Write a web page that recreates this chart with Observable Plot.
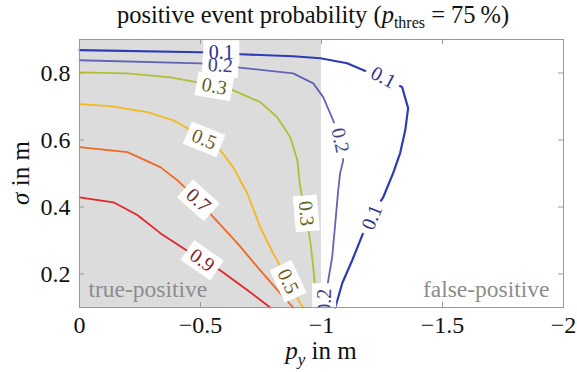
<!DOCTYPE html>
<html><head><meta charset="utf-8">
<script src="https://cdn.jsdelivr.net/npm/d3@7"></script>
<script src="https://cdn.jsdelivr.net/npm/@observablehq/plot@0.6"></script>
<style>
body{margin:0;background:#fff;}
#title{height:30px;width:577px;font-family:"Liberation Serif","Times New Roman","DejaVu Serif",serif;font-size:24.5px;line-height:30px;text-align:center;padding-left:49px;box-sizing:border-box;color:#111;white-space:nowrap;}
#title sub{font-size:16px;line-height:0;vertical-align:-5px;}
</style></head><body>
<div id="title">positive event probability (<i>p</i><sub>thres</sub> = 75&#8201;%)</div>
<div id="chart"></div>
<script>
// contour polylines [py (m), sigma (m)]
const c01 = [[0,0.868],[-0.499,0.862],[-0.664,0.856],[-0.883,0.850],[-0.995,0.844],[-1.106,0.829],[-1.193,0.802],[-1.255,0.784],[-1.333,0.758],[-1.358,0.695],[-1.346,0.629],[-1.325,0.561],[-1.296,0.501],[-1.255,0.429],[-1.201,0.370],[-1.172,0.322],[-1.127,0.241],[-1.086,0.173],[-1.057,0.1]];
const c02 = [[0,0.838],[-0.499,0.829],[-0.652,0.817],[-0.883,0.799],[-0.966,0.769],[-1.007,0.728],[-1.048,0.659],[-1.077,0.599],[-1.090,0.540],[-1.077,0.501],[-1.069,0.450],[-1.057,0.352],[-1.044,0.250],[-1.028,0.182],[-1.015,0.1]];
const c03 = [[0,0.802],[-0.198,0.799],[-0.375,0.787],[-0.557,0.763],[-0.635,0.748],[-0.747,0.713],[-0.817,0.668],[-0.871,0.608],[-0.900,0.540],[-0.912,0.459],[-0.933,0.384],[-0.953,0.301],[-0.966,0.220],[-0.974,0.161],[-0.982,0.1]];
const c05 = [[0,0.707],[-0.127,0.701],[-0.280,0.683],[-0.387,0.659],[-0.511,0.608],[-0.581,0.570],[-0.635,0.519],[-0.693,0.441],[-0.747,0.340],[-0.800,0.262],[-0.862,0.181],[-0.912,0.113],[-0.924,0.1]];
const c07 = [[0,0.579],[-0.198,0.564],[-0.334,0.519],[-0.404,0.480],[-0.491,0.420],[-0.553,0.370],[-0.652,0.292],[-0.747,0.211],[-0.829,0.143],[-0.883,0.1]];
const c09 = [[0,0.429],[-0.140,0.414],[-0.239,0.376],[-0.334,0.322],[-0.429,0.277],[-0.507,0.241],[-0.581,0.211],[-0.693,0.152],[-0.788,0.1]];

const levels = ["0.1","0.2","0.3","0.5","0.7","0.9"];
const lineColors = ["#2d3cb4","#6464b4","#b4bd36","#f5b71f","#ee6a24","#e2262a"];
const textColors = ["#2a2f8c","#44448a","#5f6320","#6b5a22","#6e2f22","#8a1f2e"];

// contour labels
const labelText = ["0.2","0.1","0.3","0.5","0.7","0.9","0.1","0.2","0.1","0.3","0.5","0.2"];
const labelX = [-0.582,-0.586,-0.557,-0.515,-0.491,-0.507,-1.255,-1.077,-1.209,-0.937,-0.862,-1.011];
const labelY = [0.823,0.862,0.760,0.602,0.420,0.241,0.787,0.599,0.369,0.381,0.178,0.119];
const labelRot = [3,0,10,22,42,35,28,78,-68,85,65,-90];

const shadeX = [0, -1];
const xTicks = [0, -0.5, -1, -1.5, -2];
const yTicks = [0.2, 0.4, 0.6, 0.8];
const yDomain = [0.1, 0.9];

const labels = labelText.map((t,i)=>({t, x:labelX[i], y:labelY[i], rot:labelRot[i], c:textColors[levels.indexOf(t)]}));
const contours = [c01,c02,c03,c05,c07,c09];

const FONT = "'Liberation Serif', 'Times New Roman', 'DejaVu Serif', serif";
const W = 577, H = 342, mt = 9, mb = 65, ml = 79, mr = 14;
const innerH = H - mt - mb, innerW = W - ml - mr;
const box = {draw(ctx){ctx.moveTo(-18,-12);ctx.lineTo(18,-12);ctx.lineTo(18,12);ctx.lineTo(-18,12);ctx.closePath();}};
const fmt = d => d === 0 ? "0" : "\u2212" + Math.abs(d);

const plot = Plot.plot({
  width: W, height: H, marginTop: mt, marginBottom: mb, marginLeft: ml, marginRight: mr,
  style: {fontFamily: FONT, fontSize: "24px", color: "#111", background: "white", overflow: "visible"},
  x: {domain: [0, -2], ticks: xTicks, tickFormat: fmt, tickSize: 0, tickPadding: 8, label: null},
  y: {domain: yDomain, ticks: yTicks, tickFormat: d => d.toFixed(1), tickSize: 0, tickPadding: 9, label: null},
  color: {type: "identity"},
  marks: [
    Plot.rect([shadeX], {x1: d => d[0], x2: d => d[1], y1: yDomain[0], y2: yDomain[1], fill: "#dcdcdc"}),
    Plot.tickX(xTicks.slice(1, -1), {x: d => d, stroke: "#999", insetTop: innerH - 5}),
    Plot.tickX(xTicks.slice(1, -1), {x: d => d, stroke: "#999", insetBottom: innerH - 5}),
    Plot.tickY(yTicks, {y: d => d, stroke: "#999", insetRight: innerW - 5}),
    Plot.tickY(yTicks, {y: d => d, stroke: "#999", insetLeft: innerW - 5}),
    ...contours.map((c, i) => Plot.line(c, {x: d => d[0], y: d => d[1], stroke: lineColors[i], strokeWidth: i === 0 ? 2.2 : 1.8})),
    Plot.dot(labels, {x: "x", y: "y", rotate: "rot", symbol: box, fill: "white", stroke: "none", clip: true}),
    Plot.text(labels, {x: "x", y: "y", rotate: "rot", text: "t", fill: "c", fontSize: 20, fontFamily: FONT, clip: true}),
    Plot.text(["true-positive"], {frameAnchor: "bottom-left", text: d => d, dx: 9, dy: -11, lineAnchor: "bottom", textAnchor: "start", fill: "#8c8c8c", fontSize: 23.5, fontFamily: FONT}),
    Plot.text(["false-positive"], {frameAnchor: "bottom-right", text: d => d, dx: -14, dy: -11, lineAnchor: "bottom", textAnchor: "end", fill: "#8c8c8c", fontSize: 23.5, fontFamily: FONT}),
    Plot.frame({stroke: "#999"})
  ]
});
document.getElementById("chart").appendChild(plot);

const svg = d3.select(plot);
const xl = svg.append("text").attr("x", ml + innerW / 2).attr("y", 329).attr("text-anchor", "middle")
  .attr("font-family", FONT).attr("font-size", 25).attr("fill", "#111");
xl.append("tspan").attr("font-style", "italic").text("p");
xl.append("tspan").attr("font-style", "italic").attr("font-size", 17).attr("dy", 6).text("y");
xl.append("tspan").attr("dy", -6).text(" in m");
svg.append("text").attr("transform", `translate(29,${mt + innerH / 2}) rotate(-90)`).attr("text-anchor", "middle")
  .attr("font-family", FONT).attr("font-size", 25).attr("fill", "#111")
  .html('<tspan font-style="italic">σ</tspan> in m');
</script></body></html>
